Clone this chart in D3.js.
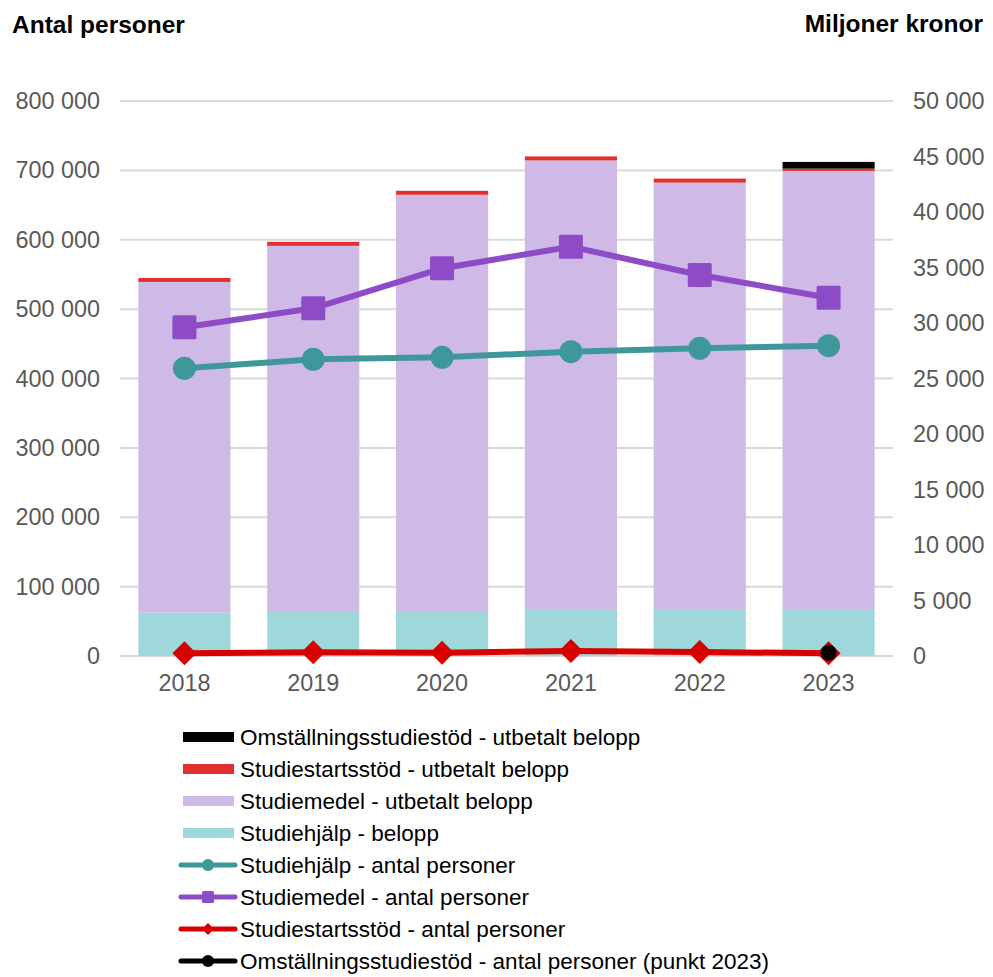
<!DOCTYPE html>
<html>
<head>
	<meta charset=utf-8>
	<title>Studiestöd 2018-2023</title>
	<script src="https://d3js.org/d3.v7.min.js"></script>
	<style type="text/css">
		body{
			margin: 0;
			background: #fff;
		}
		text{
			font-family: "Liberation Sans", Arial, sans-serif;
		}
		.tick text{
			fill: #595959;
			font-size: 23.4px;
		}
		.title{
			font-weight: bold;
			font-size: 24.5px;
		}
	</style>
</head>
<body>
	<div id="chart"></div>

	<script type="text/javascript">
		// ar
		const years = ['2018', '2019', '2020', '2021', '2022', '2023'];

		// staplar, miljoner kronor (hoger axel)
		const studiehjalpBelopp = [3900, 4050, 4050, 4150, 4150, 4150];
		const studiemedelBelopp = [29800, 32900, 37500, 40500, 38500, 39550];
		const studiestartBelopp = [360, 360, 360, 360, 360, 210];
		const omstallningBelopp = [0, 0, 0, 0, 0, 600];

		// linjer, antal personer (vanster axel)
		const studiehjalpAntal = [414700, 427700, 430600, 438600, 443500, 447300];
		const studiemedelAntal = [473800, 501200, 558900, 590000, 549200, 516500];
		const studiestartAntal = [3900, 5300, 4800, 7200, 5800, 3900];
		const omstallningAntal = [null, null, null, null, null, 4600];

		const leftTicks = [0, 100000, 200000, 300000, 400000, 500000, 600000, 700000, 800000];
		const rightTicks = [0, 5000, 10000, 15000, 20000, 25000, 30000, 35000, 40000, 45000, 50000];

		const barKeys = ['Studiehjälp - belopp', 'Studiemedel - utbetalt belopp', 'Studiestartsstöd - utbetalt belopp', 'Omställningsstudiestöd - utbetalt belopp'];
		const barColors = ['#9ed8da', '#cfb9e6', '#e2302f', '#000000'];

		const W = 993, H = 977;
		const m = {left: 120, right: 100, top: 101, bottom: 321};

		const svg = d3.select('#chart')
			.append('svg')
			.attr('width', W)
			.attr('height', H);

		const x = d3.scaleBand()
			.domain(years)
			.range([m.left, W - m.right])
			.paddingInner(0.285)
			.paddingOuter(0.1425);

		const yL = d3.scaleLinear()
			.domain([0, 800000])
			.range([H - m.bottom, m.top]);

		const yR = d3.scaleLinear()
			.domain([0, 50000])
			.range([H - m.bottom, m.top]);

		const fmt = v => d3.format(',')(v).replace(/,/g, ' ');

		// rutnat
		svg.append('g')
			.selectAll('line')
			.data(leftTicks)
			.enter()
			.append('line')
			.attr('x1', m.left)
			.attr('x2', W - m.right)
			.attr('y1', d => yL(d))
			.attr('y2', d => yL(d))
			.attr('stroke', '#d9d9d9')
			.attr('stroke-width', 2);

		// axlar
		const axL = svg.append('g')
			.attr('transform', `translate(${m.left}, 0)`)
			.call(d3.axisLeft(yL).tickValues(leftTicks).tickFormat(fmt).tickSize(0).tickPadding(20));
		axL.select('.domain').remove();

		const axR = svg.append('g')
			.attr('transform', `translate(${W - m.right}, 0)`)
			.call(d3.axisRight(yR).tickValues(rightTicks).tickFormat(fmt).tickSize(0).tickPadding(20));
		axR.select('.domain').remove();

		const axB = svg.append('g')
			.attr('transform', `translate(0, ${H - m.bottom})`)
			.call(d3.axisBottom(x).tickSize(0).tickPadding(18));
		axB.select('.domain').remove();

		// staplade staplar
		const rows = years.map((yr, i) => ({
			year: yr,
			[barKeys[0]]: studiehjalpBelopp[i],
			[barKeys[1]]: studiemedelBelopp[i],
			[barKeys[2]]: studiestartBelopp[i],
			[barKeys[3]]: omstallningBelopp[i]
		}));
		const stacked = d3.stack().keys(barKeys)(rows);

		svg.append('g')
			.selectAll('g')
			.data(stacked)
			.enter()
			.append('g')
			.attr('fill', (d, i) => barColors[i])
			.selectAll('rect')
			.data(d => d)
			.enter()
			.append('rect')
			.attr('x', d => x(d.data.year))
			.attr('width', x.bandwidth())
			.attr('y', d => yR(d[1]))
			.attr('height', d => yR(d[0]) - yR(d[1]));

		// linjer
		const cx = yr => x(yr) + x.bandwidth() / 2;
		const lineSeries = [
			{name: 'Studiehjälp - antal personer', vals: studiehjalpAntal, color: '#3e9899', marker: 'circle', size: 23},
			{name: 'Studiemedel - antal personer', vals: studiemedelAntal, color: '#8e4bc6', marker: 'square', size: 24},
			{name: 'Studiestartsstöd - antal personer', vals: studiestartAntal, color: '#d90000', marker: 'diamond', size: 24},
			{name: 'Omställningsstudiestöd - antal personer (punkt 2023)', vals: omstallningAntal, color: '#000000', marker: 'circle', size: 16}
		];

		function drawMarker(g, type, px, py, size, color){
			if(type === 'circle'){
				g.append('circle').attr('cx', px).attr('cy', py).attr('r', size / 2).attr('fill', color);
			} else if(type === 'square'){
				g.append('rect').attr('x', px - size / 2).attr('y', py - size / 2)
					.attr('width', size).attr('height', size).attr('rx', 1.5).attr('fill', color);
			} else {
				const h = size / 2;
				g.append('path')
					.attr('d', `M${px},${py - h}L${px + h},${py}L${px},${py + h}L${px - h},${py}Z`)
					.attr('fill', color);
			}
		}

		const line = d3.line()
			.defined(d => d.v !== null)
			.x(d => cx(d.yr))
			.y(d => yL(d.v));

		const lineG = svg.append('g');
		lineSeries.forEach(s => {
			const pts = years.map((yr, i) => ({yr: yr, v: s.vals[i]}));
			lineG.append('path')
				.datum(pts)
				.attr('d', line)
				.attr('fill', 'none')
				.attr('stroke', s.color)
				.attr('stroke-width', 6)
				.attr('stroke-linejoin', 'round');
			pts.filter(p => p.v !== null).forEach(p => {
				drawMarker(lineG, s.marker, cx(p.yr), yL(p.v), s.size, s.color);
			});
		});

		// titlar
		svg.append('text')
			.attr('class', 'title')
			.attr('x', 12)
			.attr('y', 33)
			.text('Antal personer');

		svg.append('text')
			.attr('class', 'title')
			.attr('x', 983)
			.attr('y', 32)
			.attr('text-anchor', 'end')
			.text('Miljoner kronor');

		// legend
		const legendItems = [
			{name: barKeys[3], color: barColors[3], type: 'bar'},
			{name: barKeys[2], color: barColors[2], type: 'bar'},
			{name: barKeys[1], color: barColors[1], type: 'bar'},
			{name: barKeys[0], color: barColors[0], type: 'bar'}
		].concat(lineSeries.map(s => ({name: s.name, color: s.color, type: 'line', marker: s.marker})));

		const leg = svg.append('g')
			.attr('transform', 'translate(0, 737)');

		legendItems.forEach((d, i) => {
			const g = leg.append('g').attr('transform', `translate(0, ${i * 32})`);
			if(d.type === 'bar'){
				g.append('rect')
					.attr('x', 183).attr('y', -5)
					.attr('width', 51).attr('height', 10)
					.attr('fill', d.color);
			} else {
				g.append('line')
					.attr('x1', 181).attr('x2', 235)
					.attr('y1', 0).attr('y2', 0)
					.attr('stroke', d.color)
					.attr('stroke-width', 5)
					.attr('stroke-linecap', 'round');
				const sz = d.marker === 'diamond' ? 12 : 12;
				drawMarker(g, d.marker, 208, 0, sz, d.color);
			}
			g.append('text')
				.attr('x', 240)
				.attr('y', 0)
				.attr('dy', '0.35em')
				.attr('font-size', 22.5)
				.attr('fill', '#000')
				.text(d.name);
		});
	</script>
</body>
</html>
